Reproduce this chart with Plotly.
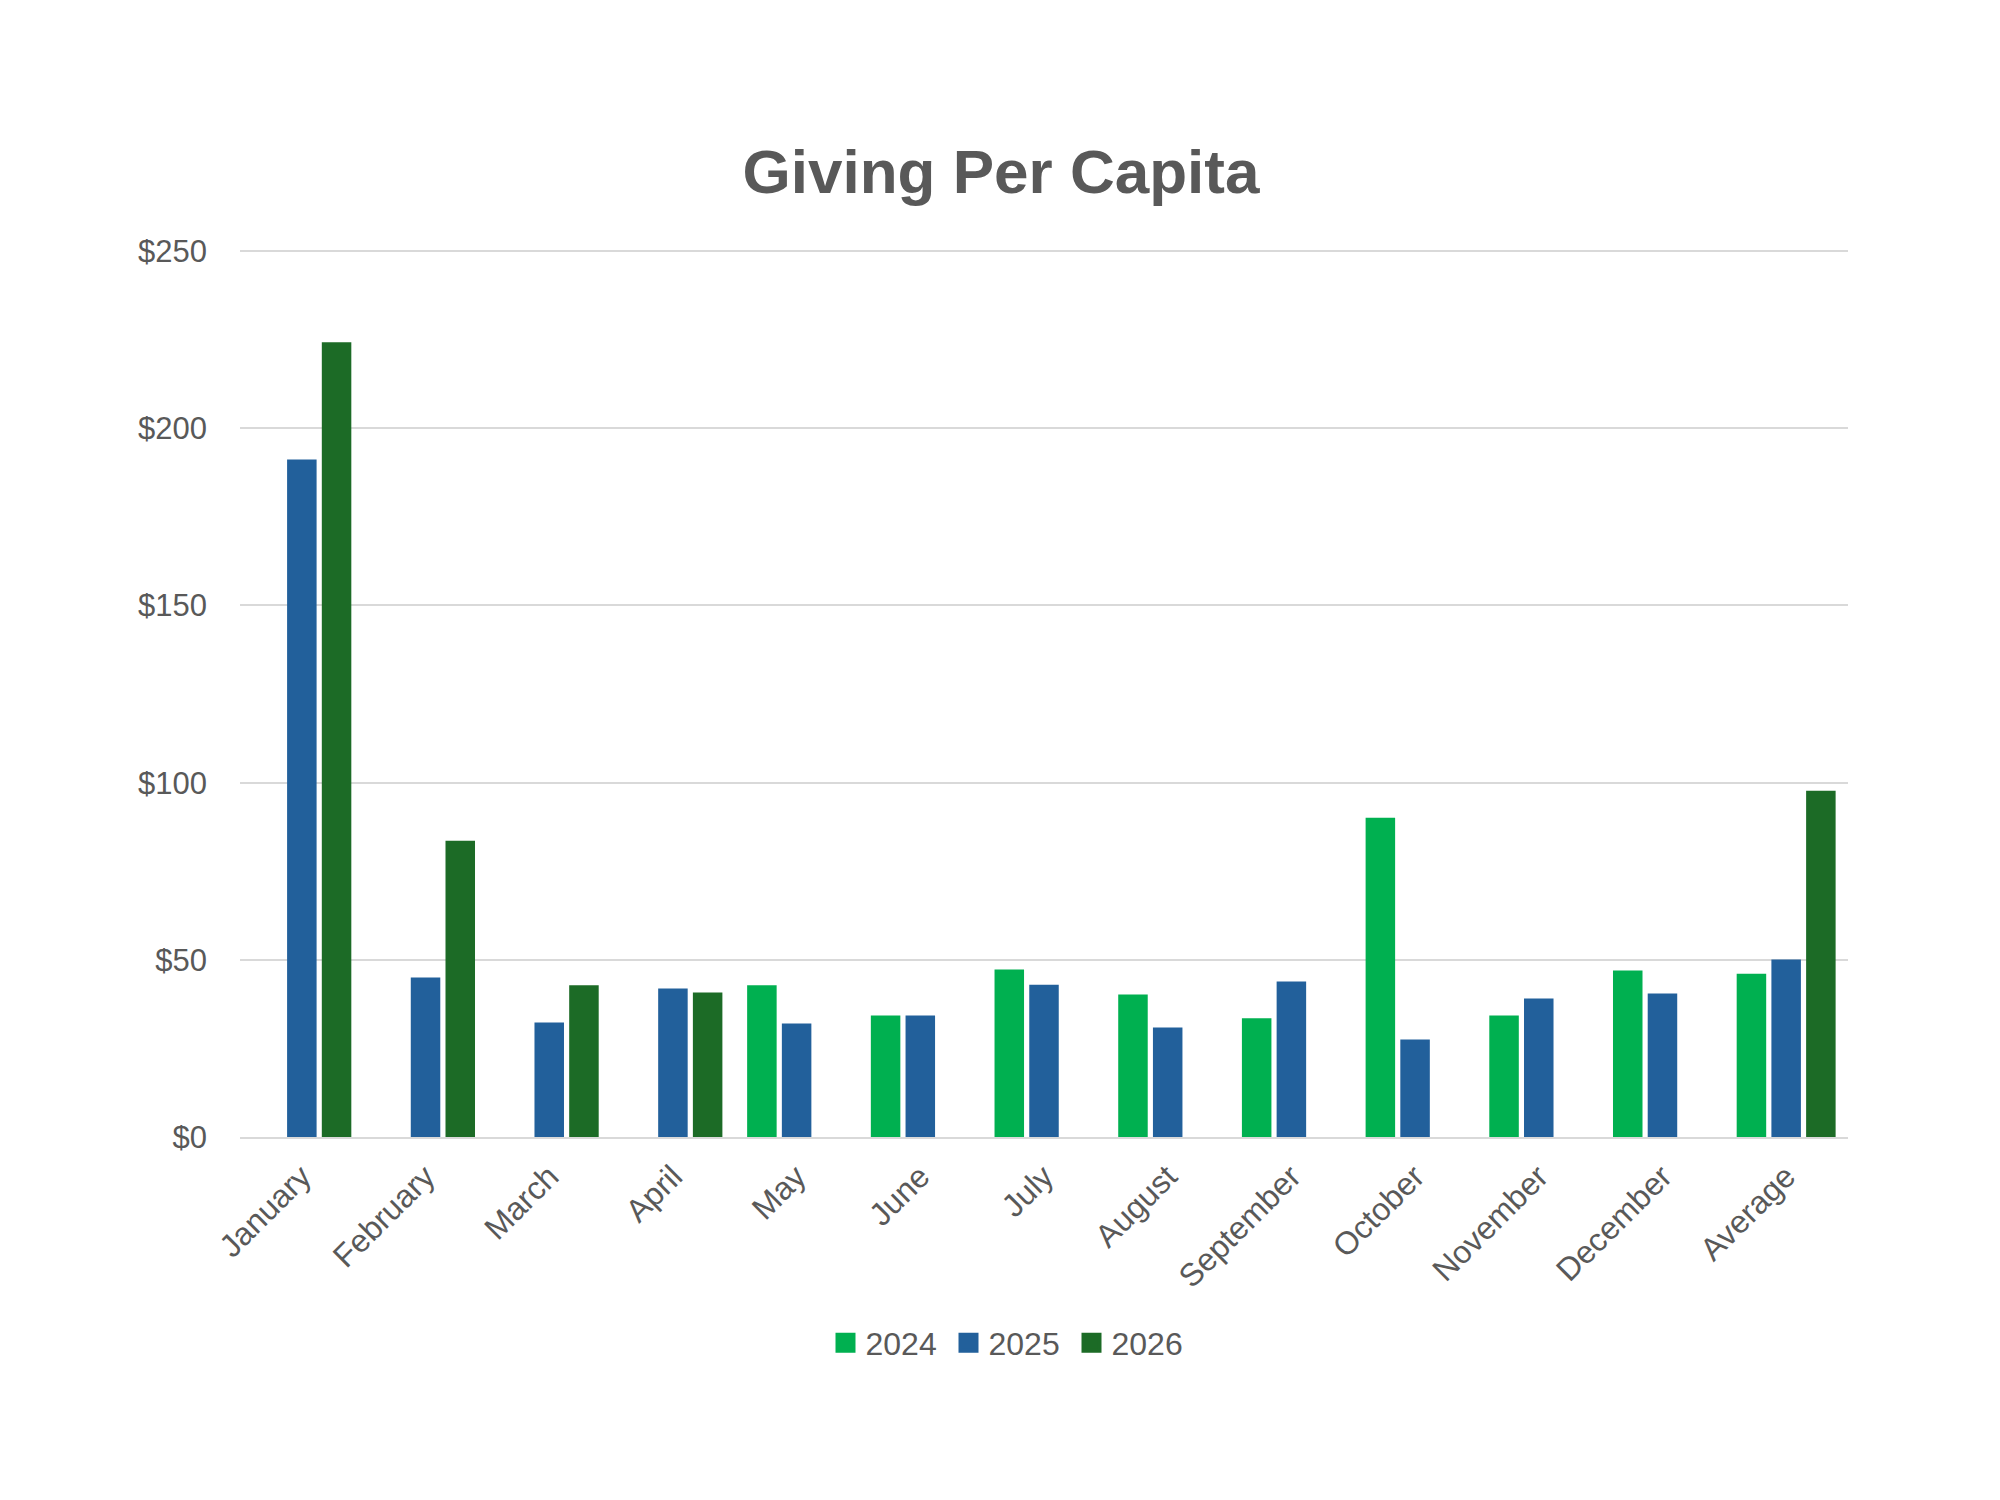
import plotly.graph_objects as go

# categories and series
months = ["January", "February", "March", "April", "May", "June", "July",
          "August", "September", "October", "November", "December", "Average"]
years = ["2024", "2025", "2026"]

giving_2024 = [None, None, None, None, 42.8, 34.3, 47.3, 40.2, 33.5, 90.1, 34.3, 47.0, 46.1]
giving_2025 = [191.2, 45.0, 32.3, 41.9, 32.0, 34.3, 43.0, 30.9, 43.9, 27.5, 39.1, 40.5, 50.1]
giving_2026 = [224.3, 83.6, 42.8, 40.8, None, None, None, None, None, None, None, None, 97.7]

y_ticks = [0, 50, 100, 150, 200, 250]

colors = {"2024": "#00B050", "2025": "#22609B", "2026": "#1C6B26"}
series = {"2024": giving_2024, "2025": giving_2025, "2026": giving_2026}

FONT = "Liberation Sans, Arial, sans-serif"
TEXT = "#595959"
GRID = "#D9D9D9"

fig = go.Figure()

for yr in years:
    fig.add_trace(go.Bar(
        x=months, y=series[yr], name=yr,
        marker=dict(color=colors[yr], line=dict(width=0)),
        showlegend=False,
    ))

# legend entries with bigger square swatches
for yr in years:
    fig.add_trace(go.Scatter(
        x=[None], y=[None], mode="markers", name=yr,
        marker=dict(symbol="square", size=16, color=colors[yr],
                    line=dict(color=colors[yr], width=4)),
    ))

# page body adds an 8px offset, margins compensate for it
fig.update_layout(
    width=2000, height=1500,
    paper_bgcolor="white", plot_bgcolor="white",
    margin=dict(l=232, r=160, t=241, b=371),
    barmode="group", bargap=0.158, bargroupgap=0.15,
    font=dict(family=FONT, color=TEXT, size=31),
    title=dict(text="<b>Giving Per Capita</b>", x=0.4965, xanchor="center",
               xref="container", y=1 - 163 / 1500, yref="container",
               yanchor="middle", font=dict(size=62, color=TEXT, family=FONT)),
    legend=dict(orientation="h", xref="container", x=0.501, xanchor="center",
                yref="container", y=1 - 1335 / 1500, yanchor="middle",
                font=dict(size=32, color=TEXT), entrywidth=78,
                entrywidthmode="pixels", itemclick=False),
    showlegend=True,
)

fig.update_xaxes(
    type="category", tickangle=-45, showgrid=False,
    showline=True, linecolor=GRID, linewidth=2,
    ticks="", ticklabelstandoff=6,
    tickfont=dict(size=32, color=TEXT),
)
fig.update_yaxes(
    range=[0, 250.6], tickvals=y_ticks, ticktext=[f"${v}" for v in y_ticks],
    showgrid=True, gridcolor=GRID, gridwidth=2, zeroline=False,
    showline=False, ticks="", ticklabelstandoff=32,
    tickfont=dict(size=31, color=TEXT),
)

fig.write_html("out.html")
